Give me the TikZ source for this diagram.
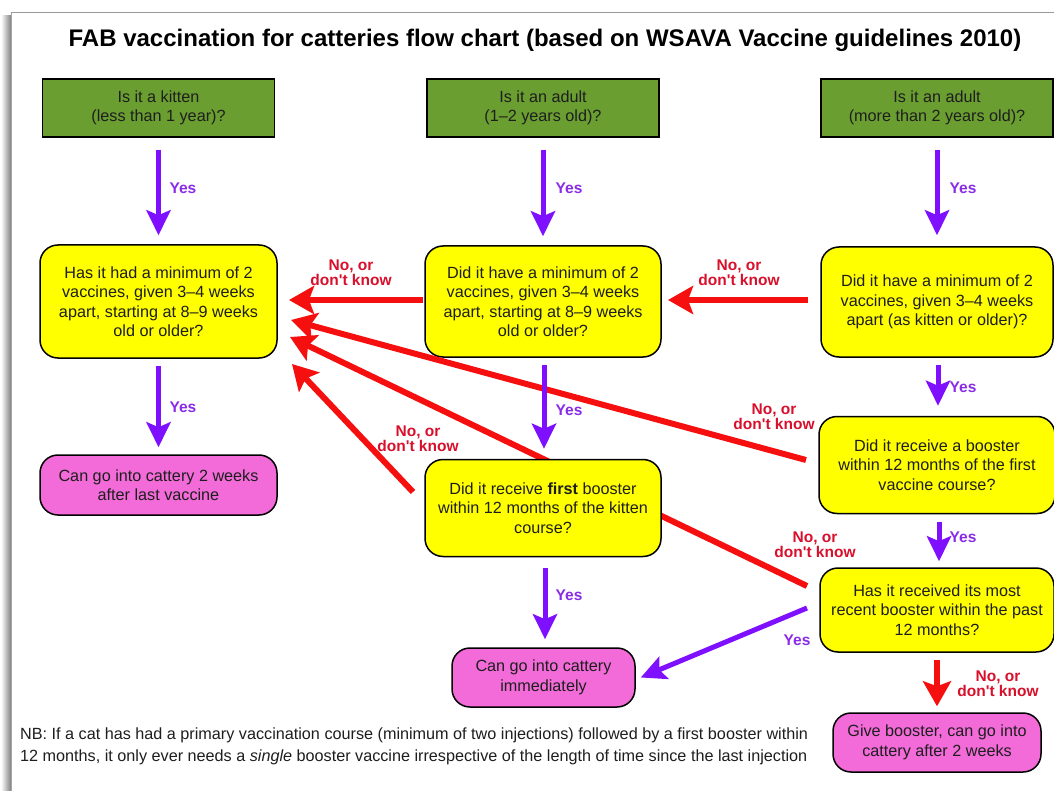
\documentclass[tikz,border=0pt]{standalone}
\usepackage{fontspec}
\setmainfont{Liberation Sans}
\usetikzlibrary{arrows.meta,calc}
\definecolor{boxgreen}{HTML}{6A9E30}
\definecolor{boxyellow}{HTML}{FFFF00}
\definecolor{boxpink}{HTML}{F26BD8}
\definecolor{arrowpurple}{HTML}{7F10FF}
\definecolor{arrowred}{HTML}{F50F0F}
\definecolor{labelred}{HTML}{D8102C}
\definecolor{labelpurple}{HTML}{8A2BE8}
\definecolor{inktext}{HTML}{1E1E1E}
\tikzset{
  boxtxt/.style={font=\fontsize{16.2}{19.5}\selectfont, text=inktext, align=center, inner sep=0pt},
  greenbox/.style={boxtxt, draw=black, line width=1.5pt, fill=boxgreen, minimum width=232pt, minimum height=58pt},
  yellowbox/.style={boxtxt, draw=black, line width=1.5pt, fill=boxyellow, rounded corners=18pt},
  pinkbox/.style={boxtxt, draw=black, line width=1.5pt, fill=boxpink, rounded corners=18pt},
  yesarrow/.style={draw=arrowpurple, line width=5pt, -{Stealth[length=25pt,width=24pt,inset=5pt]}},
  noarrow/.style={draw=arrowred, line width=6pt, -{Stealth[length=25pt,width=28pt,inset=5pt]}},
  yeslbl/.style={font=\fontsize{15.5}{16}\selectfont\bfseries, text=labelpurple, inner sep=0pt},
  nolbl/.style={font=\fontsize{15.5}{15}\selectfont\bfseries, text=labelred, align=center, inner sep=0pt},
}
\begin{document}
\begin{tikzpicture}[x=1pt,y=-1pt]
\clip (0,0) rectangle (1054,791);
\fill[white] (0,0) rectangle (1054,791);
% page frame
\shade[left color=white, right color=black!50] (1,16) rectangle (11,791);
\draw[black!40, line width=1pt] (11,13) -- (1054,13);
\draw[black!35, line width=0.8pt] (11,13) -- (11,791);

\node[font=\fontsize{24}{28}\selectfont\bfseries, text=black] (title) at (545,40)
  {FAB vaccination for catteries flow chart (based on WSAVA Vaccine guidelines 2010)};

% top row
\node[greenbox] (G1) at (158.5,108) {Is it a kitten\\(less than 1 year)?};
\node[greenbox] (G2) at (543,108) {Is it an adult\\(1--2 years old)?};
\node[greenbox] (G3) at (937,108) {Is it an adult\\(more than 2 years old)?};

% second row
\node[yellowbox, minimum width=237pt, minimum height=113pt] (Y1) at (158.5,301.5)
  {Has it had a minimum of 2\\vaccines, given 3--4 weeks\\apart, starting at 8--9 weeks\\old or older?};
\node[yellowbox, minimum width=236pt, minimum height=111pt] (Y2) at (543,301.5)
  {Did it have a minimum of 2\\vaccines, given 3--4 weeks\\apart, starting at 8--9 weeks\\old or older?};
\node[yellowbox, minimum width=232pt, minimum height=110pt] (Y3) at (937,302)
  {Did it have a minimum of 2\\vaccines, given 3--4 weeks\\apart (as kitten or older)?};

% third row
\node[pinkbox, minimum width=237pt, minimum height=60pt] (P1) at (158.5,485)
  {Can go into cattery 2 weeks\\after last vaccine};
\node[yellowbox, minimum width=236pt, minimum height=97pt] (Y5) at (937,465)
  {Did it receive a booster\\within 12 months of the first\\vaccine course?};
\node[yellowbox, minimum width=234pt, minimum height=84pt] (Y6) at (937,610)
  {Has it received its most\\recent booster within the past\\12 months?};
\node[pinkbox, minimum width=208pt, minimum height=59pt] (P3) at (937,742.5)
  {Give booster, can go into\\cattery after 2 weeks};
\node[pinkbox, minimum width=183pt, minimum height=59pt] (P2) at (543.5,677.5)
  {Can go into cattery\\immediately};

% arrow end points
\coordinate (a5s) at (806,460);
\coordinate (a5e) at (291,320);
\coordinate (a6s) at (807,586);
\coordinate (a6e) at (290,337);

% red line behind Y4
\draw[noarrow] (a6s) -- (a6e);

\node[yellowbox, minimum width=236pt, minimum height=97pt] (Y4) at (543,508)
  {Did it receive \textbf{first} booster\\within 12 months of the kitten\\course?};

% red arrows to Y1 and Y2
\coordinate (a2s) at (423,300);
\coordinate (a2e) at (289,300);
\draw[noarrow] (a2s) -- (a2e);
\coordinate (a3s) at (808,300);
\coordinate (a3e) at (668,300);
\draw[noarrow] (a3s) -- (a3e);
\draw[noarrow] (a5s) -- (a5e);
\coordinate (a4s) at (413,492);
\coordinate (a4e) at (292,364);
\draw[noarrow] (a4s) -- (a4e);
\draw[noarrow] ([yshift=-7pt]Y6.south) -- ([yshift=6pt]P3.north);

% purple arrows
\draw[yesarrow] ([yshift=-12pt]G1.south) -- ([yshift=9pt]Y1.north);
\draw[yesarrow] ([yshift=-12pt]G2.south) -- ([yshift=9pt]Y2.north);
\draw[yesarrow] ([yshift=-12pt]G3.south) -- ([yshift=11pt]Y3.north);
\draw[yesarrow] ([yshift=-7pt]Y1.south) -- ([yshift=7pt]P1.north);
\draw[yesarrow] ([xshift=1pt,yshift=-7pt]Y2.south) -- ([xshift=1pt,yshift=10pt]Y4.north);
\draw[yesarrow] ([xshift=1pt,yshift=-7pt]Y3.south) -- ([xshift=1pt,yshift=10pt]Y5.north);
\draw[yesarrow] ([xshift=2pt,yshift=-11pt]Y4.south) -- ([xshift=1.5pt,yshift=8pt]P2.north);
\draw[yesarrow] ([xshift=2pt,yshift=-8pt]Y5.south) -- ([xshift=2pt,yshift=6pt]Y6.north);
\coordinate (a7s) at (807,608);
\draw[yesarrow] (a7s) -- ([xshift=5pt]P2.east);

% labels
\node[yeslbl] (l1) at (183,188) {Yes};
\node[yeslbl] (l2) at (569,188) {Yes};
\node[yeslbl] (l3) at (963,188) {Yes};
\node[yeslbl] (l4) at (183,407) {Yes};
\node[yeslbl] (l5) at (569,410) {Yes};
\node[yeslbl] (l6) at (963,387) {Yes};
\node[yeslbl] (l7) at (569,595) {Yes};
\node[yeslbl] (l8) at (963,537) {Yes};
\node[yeslbl] (l9) at (797,640) {Yes};

\node[nolbl] (n1) at (351,273) {No, or\\don\textquotesingle t know};
\node[nolbl] (n2) at (739,273) {No, or\\don\textquotesingle t know};
\node[nolbl] (n3) at (774,417) {No, or\\don\textquotesingle t know};
\node[nolbl] (n4) at (418,439) {No, or\\don\textquotesingle t know};
\node[nolbl] (n5) at (815,545) {No, or\\don\textquotesingle t know};
\node[nolbl] (n6) at (998,684) {No, or\\don\textquotesingle t know};

% footnote
\node[font=\fontsize{16.2}{22}\selectfont, text=inktext, align=left, anchor=west, inner sep=0pt] (nb) at (20,746)
  {NB: If a cat has had a primary vaccination course (minimum of two injections) followed by a first booster within\\
   12 months, it only ever needs a \textit{single} booster vaccine irrespective of the length of time since the last injection};
\end{tikzpicture}
\end{document}
